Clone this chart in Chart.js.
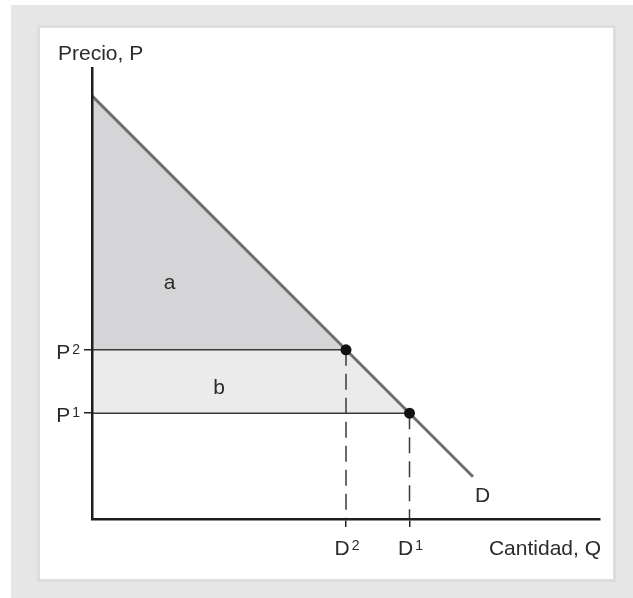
<!DOCTYPE html>
<html>
<head>
<meta charset="utf-8">
<script src="https://cdn.jsdelivr.net/npm/chart.js@4.4.1/dist/chart.umd.min.js"></script>
<style>
  body { margin: 0; background: #fff; }
  #frame { position: absolute; left: 11px; top: 5px; width: 622px; height: 593px; background: #e6e6e6; }
  #panel { position: absolute; left: 37px; top: 25px; width: 573px; height: 551px; background: #fff; border: 3px solid #dddddd; }
  #wrap { position: absolute; left: 0; top: 0; width: 633px; height: 598px; }
</style>
</head>
<body>
<div id="frame"></div>
<div id="panel"></div>
<div id="wrap"><canvas id="chart" width="633" height="598"></canvas></div>
<script>
// demand curve D: P = 10 - 1.5 Q
const demandQ = [0, 4, 5, 6];
const demandP = [10, 4, 2.5, 1];

// the two points on D
const pointQ = [4, 5];        // D2, D1
const pointP = [4, 2.5];      // P2, P1

// tick labels as [letter, superscript]
const qtyTicks = [4, 5];
const qtyLabels = [["D", "2"], ["D", "1"]];
const priceTicks = [2.5, 4];
const priceLabels = [["P", "1"], ["P", "2"]];

const xy = (xs, ys) => xs.map((x, i) => ({ x: x, y: ys[i] }));

// area a: triangle above P2, area b: band between P1 and P2
const areaA = [
  { x: 0, y: demandP[0] }, { x: pointQ[0], y: pointP[0] }, { x: 0, y: pointP[0] }, { x: 0, y: demandP[0] }
];
const areaB = [
  { x: 0, y: pointP[0] }, { x: pointQ[0], y: pointP[0] }, { x: pointQ[1], y: pointP[1] },
  { x: 0, y: pointP[1] }, { x: 0, y: pointP[0] }
];

const FONT = "'Liberation Sans', Arial, sans-serif";
const INK = "#2b2b2b";

// letter + raised digit; align = "center" or "right"
function supLabel(ctx, parts, x, baseline, align) {
  ctx.font = "21px " + FONT;
  const w1 = ctx.measureText(parts[0]).width;
  ctx.font = "14px " + FONT;
  const w2 = ctx.measureText(parts[1]).width;
  const gap = 2;
  const total = w1 + gap + w2;
  let left = align === "right" ? x - total : x - total / 2;
  ctx.textAlign = "left";
  ctx.textBaseline = "alphabetic";
  ctx.font = "21px " + FONT;
  ctx.fillText(parts[0], left, baseline);
  ctx.font = "14px " + FONT;
  ctx.fillText(parts[1], left + w1 + gap, baseline - 5);
}

const textPlugin = {
  id: "texts",
  afterDraw(chart) {
    const ctx = chart.ctx;
    const xs = chart.scales.x, ys = chart.scales.y;
    ctx.save();
    ctx.fillStyle = INK;
    ctx.font = "21px " + FONT;
    ctx.textBaseline = "alphabetic";
    ctx.textAlign = "left";
    ctx.fillText("Precio, P", 58, 60);
    ctx.textAlign = "right";
    ctx.fillText("Cantidad, Q", 601, 555);
    ctx.textAlign = "center";
    ctx.fillText("a", xs.getPixelForValue(1.22), 289);
    ctx.fillText("b", xs.getPixelForValue(2.0), 394);
    ctx.textAlign = "left";
    ctx.fillText("D", 475, 502);

    qtyTicks.forEach((v, i) => supLabel(ctx, qtyLabels[i], xs.getPixelForValue(v) + 1, 555, "center"));
    priceTicks.forEach((v, i) => supLabel(ctx, priceLabels[i], 80, ys.getPixelForValue(v) + 9, "right"));
    ctx.restore();
  }
};

const axisOpts = {
  ticks: { display: false },
  grid: { drawOnChartArea: false, drawTicks: true, tickLength: 8, color: "#222", lineWidth: 1.5, z: 1 },
  border: { display: true, color: "#1e1e1e", width: 2.5, z: 1 }
};

new Chart(document.getElementById("chart"), {
  type: "line",
  data: {
    datasets: [
      { data: xy(pointQ, pointP), showLine: false, pointRadius: 5.5, pointBackgroundColor: "#111", pointBorderWidth: 0, order: 0 },
      { data: xy(demandQ, demandP), borderColor: "#6e6e6e", borderWidth: 3, pointRadius: 0, order: 1 },
      { data: [{ x: 0, y: pointP[0] }, { x: pointQ[0], y: pointP[0] }], borderColor: "#3a3a3a", borderWidth: 1.5, pointRadius: 0, order: 2 },
      { data: [{ x: 0, y: pointP[1] }, { x: pointQ[1], y: pointP[1] }], borderColor: "#3a3a3a", borderWidth: 1.5, pointRadius: 0, order: 2 },
      { data: [{ x: pointQ[0], y: pointP[0] }, { x: pointQ[0], y: 0 }], borderColor: "#3a3a3a", borderWidth: 1.5, borderDash: [16, 8], pointRadius: 0, order: 2 },
      { data: [{ x: pointQ[1], y: pointP[1] }, { x: pointQ[1], y: 0 }], borderColor: "#3a3a3a", borderWidth: 1.5, borderDash: [16, 8], pointRadius: 0, order: 2 },
      { data: areaA, fill: "shape", backgroundColor: "#d5d5d7", borderWidth: 0, pointRadius: 0, order: 5 },
      { data: areaB, fill: "shape", backgroundColor: "#ebebeb", borderWidth: 0, pointRadius: 0, order: 5 }
    ]
  },
  options: {
    responsive: false,
    animation: false,
    layout: { padding: { left: 0, top: 68, right: 33, bottom: 0 } },
    plugins: { legend: { display: false }, tooltip: { enabled: false } },
    scales: {
      x: {
        type: "linear", min: 0, max: 8,
        afterBuildTicks(scale) { scale.ticks = qtyTicks.map(v => ({ value: v })); },
        afterFit(scale) { scale.height = 79; },
        ...axisOpts
      },
      y: {
        type: "linear", min: 0, max: 10.66,
        afterBuildTicks(scale) { scale.ticks = priceTicks.map(v => ({ value: v })); },
        afterFit(scale) { scale.width = 92; },
        ...axisOpts
      }
    }
  },
  plugins: [textPlugin]
});
</script>
</body>
</html>
